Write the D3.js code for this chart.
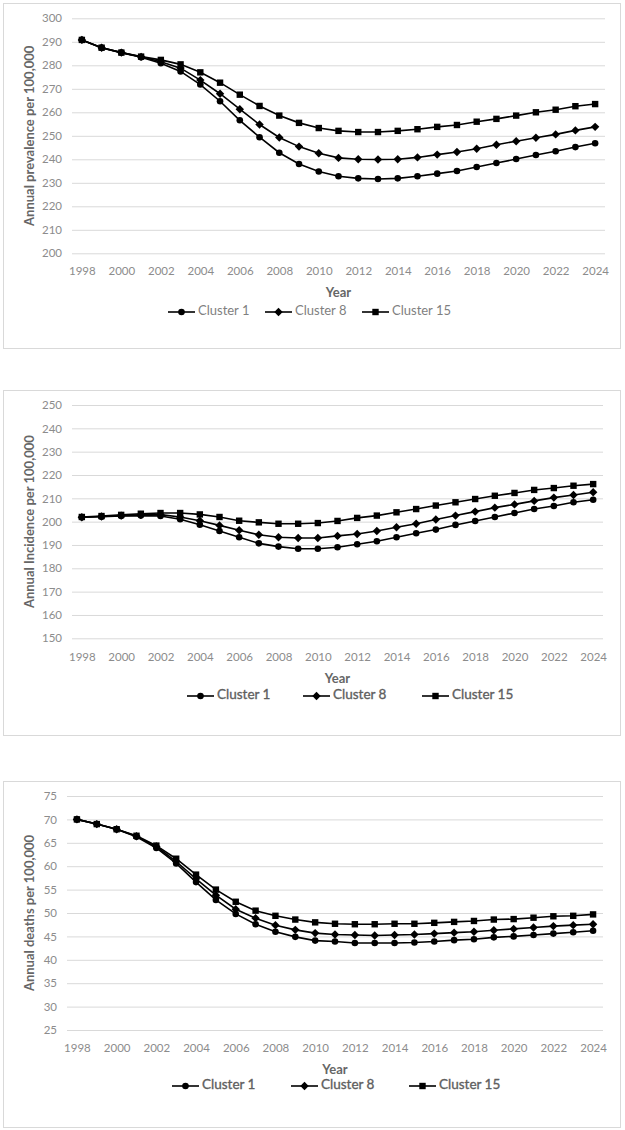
<!DOCTYPE html>
<html><head><meta charset="utf-8">
<script src="https://cdn.jsdelivr.net/npm/d3@7"></script>
<style>
html,body{margin:0;padding:0;background:#fff;}
svg{display:block;font-family:Lato,"Open Sans",sans-serif;}
</style></head>
<body><svg id="c" width="625" height="1130"></svg>
<script>
const years = d3.range(1998, 2025);
const xTickLabels = [1998,2000,2002,2004,2006,2008,2010,2012,2014,2016,2018,2020,2022,2024];
const seriesNames = ["Cluster 1","Cluster 8","Cluster 15"];

// Panel 1: prevalence
const prevTicks = [200,210,220,230,240,250,260,270,280,290,300];
const prevC1  = [290.8,287.5,285.4,283.4,280.9,277.4,271.8,264.7,256.6,249.4,242.8,238.0,234.8,232.8,231.9,231.6,231.9,232.8,233.9,235.0,236.7,238.4,240.1,241.8,243.4,245.2,246.8];
const prevC8  = [290.8,287.5,285.4,283.6,281.5,278.8,273.7,267.9,261.3,254.8,249.3,245.4,242.6,240.6,240.0,239.9,240.0,240.8,242.0,243.1,244.5,246.2,247.7,249.2,250.6,252.3,253.8];
const prevC15 = [290.8,287.5,285.4,283.7,282.3,280.4,277.0,272.6,267.5,262.7,258.6,255.5,253.3,252.1,251.6,251.6,252.1,252.8,253.8,254.6,256.0,257.2,258.6,260.0,261.1,262.6,263.5];

// Panel 2: incidence
const incTicks = [150,160,170,180,190,200,210,220,230,240,250];
const incC1  = [201.9,202.1,202.4,202.6,202.4,201.0,198.7,196.0,193.3,190.7,189.3,188.4,188.4,189.0,190.3,191.6,193.3,195.0,196.6,198.6,200.3,202.0,203.7,205.4,206.7,208.3,209.4];
const incC8  = [201.9,202.2,202.6,202.9,203.0,202.0,200.4,198.4,196.3,194.4,193.3,193.0,193.0,193.9,194.7,196.0,197.6,199.1,200.9,202.6,204.3,206.0,207.4,208.9,210.3,211.4,212.6];
const incC15 = [202.0,202.4,202.9,203.4,203.7,203.7,203.1,202.0,200.4,199.7,199.1,199.1,199.4,200.3,201.6,202.6,204.0,205.4,206.9,208.3,209.7,211.1,212.3,213.6,214.4,215.4,216.1];

// Panel 3: deaths
const deathTicks = [25,30,35,40,45,50,55,60,65,70,75];
const deathC1  = [70.0,69.0,67.9,66.3,63.9,60.6,56.6,52.8,49.8,47.6,46.0,44.9,44.1,43.9,43.6,43.6,43.6,43.7,43.9,44.2,44.4,44.8,45.0,45.3,45.6,45.9,46.2];
const deathC8  = [70.0,69.0,67.9,66.4,64.2,61.0,57.3,53.8,50.8,48.9,47.4,46.4,45.7,45.4,45.3,45.2,45.3,45.4,45.6,45.8,46.0,46.3,46.6,46.9,47.2,47.4,47.6];
const deathC15 = [70.0,69.0,67.9,66.5,64.4,61.6,58.2,55.0,52.4,50.5,49.4,48.6,48.0,47.7,47.6,47.6,47.7,47.7,47.9,48.1,48.3,48.6,48.7,49.0,49.3,49.4,49.7];

const svg = d3.select("#c");

const panels = [
  {top:3, bottom:348, gx0:72, gx1:605, gyTop:18.3, gyBot:253.3, ticks:prevTicks,
   title:"Annual prevalence per 100,000", data:[prevC1,prevC8,prevC15],
   tickY:273, yearY:294, legY:312, legX:[168,265,362], legBold:false},
  {top:390, bottom:735, gx0:72, gx1:603, gyTop:405, gyBot:638.3, ticks:incTicks,
   title:"Annual Incidence per 100,000", data:[incC1,incC8,incC15],
   tickY:659, yearY:680, legY:696, legX:[187,303,422], legBold:true},
  {top:781, bottom:1127, gx0:67, gx1:603, gyTop:796, gyBot:1030, ticks:deathTicks,
   title:"Annual deaths per 100,000", data:[deathC1,deathC8,deathC15],
   tickY:1050, yearY:1071, legY:1086, legX:[172,291,409], legBold:true}
];

function drawMarker(g, kind, cx, cy){
  if(kind===0){
    g.append("circle").attr("cx",cx).attr("cy",cy).attr("r",3.3).attr("fill","#000");
  } else if(kind===1){
    const s=4.2;
    g.append("path").attr("d",`M${cx},${cy-s}L${cx+s},${cy}L${cx},${cy+s}L${cx-s},${cy}Z`).attr("fill","#000");
  } else {
    const s=3.2;
    g.append("rect").attr("x",cx-s).attr("y",cy-s).attr("width",2*s).attr("height",2*s).attr("fill","#000");
  }
}

panels.forEach(p=>{
  const g = svg.append("g");
  g.append("rect").attr("x",3.5).attr("y",p.top+0.5).attr("width",617).attr("height",p.bottom-p.top)
    .attr("fill","#fff").attr("stroke","#d9d9d9").attr("stroke-width",1);

  const x = d3.scalePoint().domain(years).range([p.gx0,p.gx1]).padding(0.5);
  const y = d3.scaleLinear().domain([p.ticks[0], p.ticks[p.ticks.length-1]]).range([p.gyBot,p.gyTop]);

  const ya = g.append("g").attr("transform",`translate(${p.gx0},0)`)
    .call(d3.axisLeft(y).tickValues(p.ticks).tickSize(-(p.gx1-p.gx0)).tickPadding(10).tickFormat(d3.format("d")));
  ya.select(".domain").remove();
  ya.selectAll(".tick line").attr("stroke","#d9d9d9").attr("stroke-width",1);
  ya.selectAll(".tick text").attr("fill","#8c8c8c").attr("font-size",11.5).attr("font-family","Lato,sans-serif");

  const xa = g.append("g").attr("transform",`translate(0,${p.tickY-10})`)
    .call(d3.axisBottom(x).tickValues(xTickLabels).tickSize(0).tickPadding(4));
  xa.select(".domain").remove();
  xa.selectAll(".tick text").attr("fill","#8c8c8c").attr("font-size",11.5).attr("font-family","Lato,sans-serif");

  g.append("text").attr("x",(p.gx0+p.gx1)/2).attr("y",p.yearY).attr("text-anchor","middle")
    .attr("dominant-baseline","middle")
    .attr("font-size",13).attr("font-weight","bold").attr("fill","#666").text("Year");
  g.append("text").attr("transform",`translate(31,${(p.gyTop+p.gyBot)/2}) rotate(-90)`)
    .attr("text-anchor","middle").attr("dominant-baseline","middle")
    .attr("font-size",13).attr("font-weight","bold").attr("fill","#666").text(p.title);

  const line = d3.line().x((d,i)=>x(years[i])).y(d=>y(d));
  p.data.forEach((arr,k)=>{
    g.append("path").datum(arr).attr("d",line).attr("fill","none").attr("stroke","#000").attr("stroke-width",1.6);
  });
  p.data.forEach((arr,k)=>{
    const mg = g.append("g");
    arr.forEach((v,i)=>drawMarker(mg,k,x(years[i]),y(v)));
  });

  seriesNames.forEach((name,k)=>{
    const lx = p.legX[k];
    g.append("line").attr("x1",lx).attr("x2",lx+27).attr("y1",p.legY).attr("y2",p.legY)
      .attr("stroke","#000").attr("stroke-width",1.6);
    drawMarker(g,k,lx+13.5,p.legY);
    const t = g.append("text").attr("x",lx+30).attr("y",p.legY).attr("dominant-baseline","middle")
      .attr("font-size",p.legBold?13.5:13).attr("font-weight","normal")
      .attr("fill",p.legBold?"#5f5f5f":"#7f7f7f").text(name);
    if(p.legBold) t.attr("stroke","#5f5f5f").attr("stroke-width",0.35);
  });
});
</script></body></html>
